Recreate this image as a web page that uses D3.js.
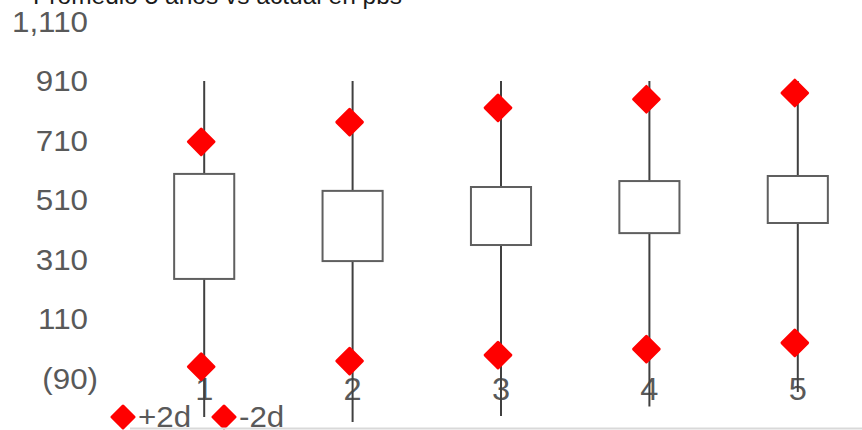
<!DOCTYPE html>
<html>
<head>
<meta charset="utf-8">
<script src="https://cdn.jsdelivr.net/npm/d3@7"></script>
<style>
  html, body { margin: 0; padding: 0; background: #fff; overflow: hidden; }
  svg { display: block; font-family: "Liberation Sans", Arial, sans-serif; }
</style>
</head>
<body>
<svg id="chart" width="862" height="430"></svg>
<script>
// ---- data ----
const title = "Promedio 5 años vs actual en pbs";
const categories = ["1", "2", "3", "4", "5"];
const highValues = [908, 908, 908, 908, 908];
const lowValues = [-221, -238, -218, -186, -137];
const boxTop = [596, 539, 552, 572, 589];
const boxBottom = [243, 303, 357, 397, 431];
const plus2d = [704, 770, 818, 847, 868];
const minus2d = [-52, -33, -13, 7, 28];
const yTicks = [-90, 110, 310, 510, 710, 910, 1110];
const legendLabels = ["+2d", "-2d"];

// ---- setup ----
const svg = d3.select("#chart");
const W = 862, H = 430;

const x = d3.scaleBand().domain(categories).range([130, 872]);
const y = d3.scaleLinear().domain([-90, 1110]).range([378, 21]);
const boxW = x.bandwidth() * 0.405;
const cx = c => x(c) + x.bandwidth() / 2;

const fmt = v => v < 0 ? "(" + d3.format(",")(-v) + ")" : d3.format(",")(v);

// title (clipped at top, as in the original)
svg.append("text")
  .attr("x", 33).attr("y", 4)
  .attr("font-size", 24.5)
  .attr("fill", "#1a1a1a")
  .text(title);

// y axis labels
const yAxis = d3.axisLeft(y).tickValues(yTicks).tickFormat(fmt).tickSize(0);
const gy = svg.append("g").attr("transform", "translate(98,0)").call(yAxis);
gy.select(".domain").remove();
gy.selectAll("text")
  .attr("font-size", 29)
  .attr("font-family", "Liberation Sans, Arial, sans-serif")
  .attr("fill", "#595959")
  .attr("x", 0)
  .attr("dy", "0.35em")
  .attr("transform", d => `translate(${d < 0 ? 0 : -10},0) scale(1.08,1)`);

// x axis labels
const xAxis = d3.axisBottom(x).tickSize(0);
const gx = svg.append("g").attr("transform", `translate(0,${y(-90)})`).call(xAxis);
gx.select(".domain").remove();
gx.selectAll("text")
  .attr("font-size", 31)
  .attr("font-family", "Liberation Sans, Arial, sans-serif")
  .attr("fill", "#595959")
  .attr("x", 0)
  .attr("y", 0)
  .attr("dy", "0.71em")
  .attr("transform", "scale(1.05,1)");

const data = categories.map((c, i) => ({
  c, hi: highValues[i], lo: lowValues[i], top: boxTop[i], bot: boxBottom[i],
  p: plus2d[i], m: minus2d[i]
}));

// whiskers
svg.append("g").selectAll("line").data(data).join("line")
  .attr("x1", d => cx(d.c)).attr("x2", d => cx(d.c))
  .attr("y1", d => y(d.hi)).attr("y2", d => y(d.lo))
  .attr("stroke", "#404040").attr("stroke-width", 2);

// boxes
svg.append("g").selectAll("rect").data(data).join("rect")
  .attr("x", d => cx(d.c) - boxW / 2)
  .attr("width", boxW)
  .attr("y", d => y(d.top))
  .attr("height", d => y(d.bot) - y(d.top))
  .attr("fill", "#fff")
  .attr("stroke", "#5f5f5f").attr("stroke-width", 2);

// diamonds
const dia = r => `M0,${-r}L${r},0L0,${r}L${-r},0Z`;
const mk = svg.append("g");
mk.selectAll("path.p").data(data).join("path").attr("class", "p")
  .attr("d", dia(12.8))
  .attr("transform", d => `translate(${cx(d.c) - 3},${y(d.p)})`)
  .attr("fill", "#ff0000").attr("stroke", "#ff0000")
  .attr("stroke-width", 3).attr("stroke-linejoin", "round");
mk.selectAll("path.m").data(data).join("path").attr("class", "m")
  .attr("d", dia(12.8))
  .attr("transform", d => `translate(${cx(d.c) - 3},${y(d.m)})`)
  .attr("fill", "#ff0000").attr("stroke", "#ff0000")
  .attr("stroke-width", 3).attr("stroke-linejoin", "round");

// legend
const lg = svg.append("g");
const legX = [123, 224];
legendLabels.forEach((t, i) => {
  lg.append("path")
    .attr("d", dia(11))
    .attr("transform", `translate(${legX[i]},417)`)
    .attr("fill", "#ff0000").attr("stroke", "#ff0000")
    .attr("stroke-width", 3).attr("stroke-linejoin", "round");
  lg.append("text")
    .attr("x", (legX[i] + 15) / 1.08).attr("y", 427)
    .attr("transform", "scale(1.08,1)")
    .attr("font-size", 29)
    .attr("fill", "#595959")
    .text(t);
});

// bottom border
svg.append("line")
  .attr("x1", 130).attr("x2", W)
  .attr("y1", 428.5).attr("y2", 428.5)
  .attr("stroke", "#d9d9d9").attr("stroke-width", 2);
</script>
</body>
</html>
